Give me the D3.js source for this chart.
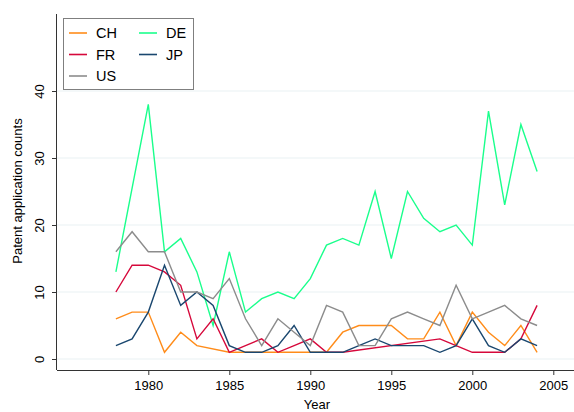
<!DOCTYPE html>
<html>
<head>
<meta charset="utf-8">
<script src="https://cdn.jsdelivr.net/npm/d3@7"></script>
<style>
html,body{margin:0;padding:0;background:#fff;}
svg{display:block;font-family:"Liberation Sans",Arial,sans-serif;}
</style>
</head>
<body>
<svg id="chart" width="574" height="412"></svg>
<script>
const years = d3.range(1978, 2005);
const CH = [6,7,7,1,4,2,null,1,1,1,1,1,1,1,4,5,5,5,3,3,7,2,7,4,2,5,1];
const DE = [13,null,38,16,18,13,5,16,7,9,10,9,12,17,18,17,25,15,25,21,19,20,17,37,23,35,28];
const FR = [10,14,14,13,11,3,6,1,2,3,1,2,3,1,1,null,null,null,null,null,3,2,1,1,1,3,8];
const JP = [2,3,7,14,8,10,8,2,1,1,2,5,1,1,1,2,3,2,2,2,1,2,6,2,1,3,2];
const US = [16,19,16,16,10,10,9,12,6,2,6,4,2,8,7,2,2,6,7,6,5,11,6,7,8,6,5];
const seriesNames = ["CH","DE","FR","JP","US"];
const seriesColors = ["#ff8c1a","#1aff8c","#d6083b","#1a476f","#8c8c8c"];
const seriesData = [CH, DE, FR, JP, US];
const xTicks = [1980,1985,1990,1995,2000,2005];
const yTicks = [0,10,20,30,40];

(function(){
const svg = d3.select("#chart");
const x = d3.scaleLinear().domain([1980, 2005]).range([148.3, 553.3]);
const y = d3.scaleLinear().domain([0, 40]).range([359, 91]);
const pL = 57, pR = 574, pT = 14, pB = 370;

// gridlines
svg.append("g").selectAll("line").data(yTicks).join("line")
  .attr("x1", pL).attr("x2", pR)
  .attr("y1", d => y(d)).attr("y2", d => y(d))
  .attr("stroke", "#eaf2f3").attr("stroke-width", 1.2);

// series lines (missing values skipped, line connects across)
const line = d3.line().x(d => x(d[0])).y(d => y(d[1]));
seriesData.forEach((vals, i) => {
  const pts = years.map((yr, j) => [yr, vals[j]]).filter(p => p[1] !== null);
  svg.append("path").attr("d", line(pts))
    .attr("fill", "none").attr("stroke", seriesColors[i])
    .attr("stroke-width", 1.4).attr("stroke-linejoin", "miter");
});

// axes
const xAxis = d3.axisBottom(x).tickValues(xTicks).tickFormat(d3.format("d")).tickSize(5).tickSizeOuter(0);
const gx = svg.append("g").attr("transform", `translate(0,${pB})`).call(xAxis);
gx.select(".domain").attr("d", `M${pL},0.5H${pR}`).attr("stroke", "#333");
gx.selectAll(".tick line").attr("stroke", "#333");
gx.selectAll(".tick text").attr("font-size", 13).attr("fill", "#000").attr("dy", "0.95em")
  .attr("font-family", "Liberation Sans, Arial, sans-serif");

const yAxis = d3.axisLeft(y).tickValues(yTicks).tickSize(5).tickSizeOuter(0);
const gy = svg.append("g").attr("transform", `translate(${pL},0)`).call(yAxis);
gy.select(".domain").attr("d", `M-0.5,${pT}V${pB}`).attr("stroke", "#333");
gy.selectAll(".tick line").attr("stroke", "#333");
gy.selectAll(".tick text").attr("font-size", 13).attr("fill", "#000")
  .attr("font-family", "Liberation Sans, Arial, sans-serif")
  .attr("x", null).attr("dy", null)
  .attr("text-anchor", "middle")
  .attr("transform", "translate(-13,0) rotate(-90)");

// axis titles
svg.append("text").attr("x", 317).attr("y", 409).attr("text-anchor", "middle")
  .attr("font-size", 13).text("Year");
svg.append("text").attr("transform", "translate(22,191) rotate(-90)")
  .attr("text-anchor", "middle").attr("font-size", 13).text("Patent application counts");

// legend
const lg = svg.append("g");
lg.append("rect").attr("x", 63.5).attr("y", 18.5).attr("width", 130).attr("height", 71)
  .attr("fill", "#fff").attr("stroke", "#7f7f7f").attr("stroke-width", 1);
const legPos = [[0,0],[1,0],[0,1],[1,1],[0,2]];
seriesNames.forEach((n, i) => {
  const cx = 69 + legPos[i][0] * 70;
  const cy = 33 + legPos[i][1] * 21.5;
  lg.append("line").attr("x1", cx).attr("x2", cx + 18).attr("y1", cy).attr("y2", cy)
    .attr("stroke", seriesColors[i]).attr("stroke-width", 1.6);
  lg.append("text").attr("x", cx + 27).attr("y", cy + 5).attr("font-size", 14.5).text(n);
});
})();
</script>
</body>
</html>
